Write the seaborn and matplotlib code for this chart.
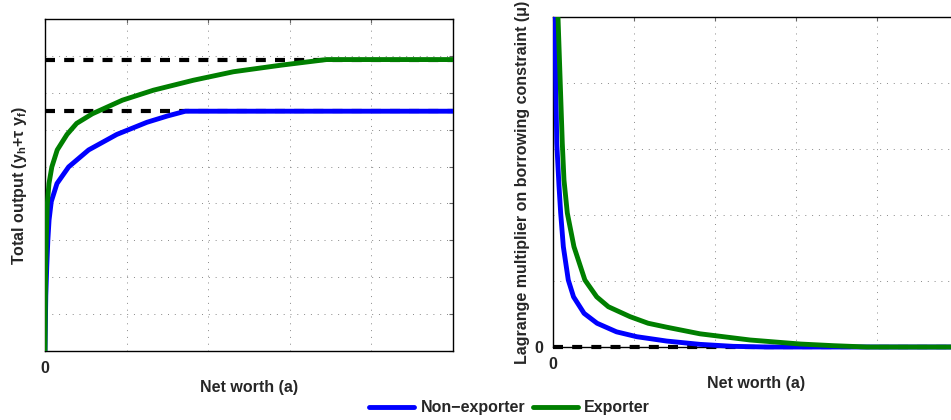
import numpy as np
import pandas as pd
import matplotlib
matplotlib.use('Agg')
import matplotlib.pyplot as plt
from matplotlib.patches import Rectangle
import seaborn as sns

#%% Data

# left panel: total output against net worth
a_nx_out = [0, 0.01, 0.022, 0.035, 0.05, 0.077, 0.147, 0.29, 0.535, 0.88, 1.25, 1.5, 1.72, 5.0]
y_nx_out = [0, 1.5, 2.3, 3.0, 3.55, 4.05, 4.54, 4.99, 5.45, 5.87, 6.2, 6.37, 6.5, 6.5]

a_ex_out = [0, 0.004, 0.01, 0.018, 0.029, 0.049, 0.084, 0.15, 0.27, 0.388, 0.58, 0.78, 0.95,
            1.33, 1.82, 2.31, 2.9, 3.45, 5.0]
y_ex_out = [0, 1.4, 2.4, 3.2, 4.0, 4.54, 4.99, 5.45, 5.87, 6.17, 6.43, 6.63, 6.80,
            7.07, 7.34, 7.57, 7.75, 7.9, 7.9]

cap_nx = 6.5
cap_ex = 7.9

# right panel: multiplier on borrowing constraint
a_nx_mu = [0.012, 0.021, 0.029, 0.043, 0.07, 0.091, 0.124, 0.185, 0.25, 0.38, 0.54, 0.78, 1.03,
           1.4, 1.81, 2.22, 2.63, 5.0]
y_nx_mu = [6.0, 5.0, 4.1, 3.09, 2.45, 2.03, 1.52, 1.015, 0.76, 0.51, 0.36, 0.23, 0.156,
           0.09, 0.04, 0.01, 0.0, 0.0]

a_ex_mu = [0.04, 0.058, 0.083, 0.111, 0.132, 0.173, 0.255, 0.39, 0.536, 0.68, 0.947, 1.17, 1.4,
           1.81, 2.43, 3.05, 3.46, 3.87, 5.0]
y_ex_mu = [5.7, 5.0, 4.1, 3.09, 2.53, 2.03, 1.52, 1.015, 0.76, 0.61, 0.46, 0.36, 0.30,
           0.20, 0.106, 0.045, 0.02, 0.0, 0.0]

labels = ['Non\u2212exporter', 'Exporter']
colors = ['#0000FF', '#007F00']

#%% Long-format frames for seaborn

out_df = pd.concat([
    pd.DataFrame({'a': a_nx_out, 'val': y_nx_out, 'type': labels[0]}),
    pd.DataFrame({'a': a_ex_out, 'val': y_ex_out, 'type': labels[1]}),
])
mu_df = pd.concat([
    pd.DataFrame({'a': a_nx_mu, 'val': y_nx_mu, 'type': labels[0]}),
    pd.DataFrame({'a': a_ex_mu, 'val': y_ex_mu, 'type': labels[1]}),
])

#%% Plot

sns.set_style('white')
plt.rcParams['font.family'] = ['Liberation Sans', 'DejaVu Sans']
plt.rcParams['font.weight'] = 'bold'
plt.rcParams['axes.labelweight'] = 'bold'
plt.rcParams['mathtext.default'] = 'regular'

fig = plt.figure(figsize=(9.51, 4.2), dpi=100)
ax1 = fig.add_axes([0.0473, 0.1643, 0.429, 0.7905])
ax2 = fig.add_axes([0.5818, 0.1738, 0.426, 0.7857])

pal = dict(zip(labels, colors))
fs = 11.5

def ax_settings(ax, ymax, ylabel):
    ax.set_xlim(0, 5)
    ax.set_ylim(0, ymax)
    ax.set_xticks(range(6))
    ax.set_xticklabels(['0'] + [''] * 5)
    ax.set_yticks(range(ymax + 1))
    ax.grid(True, color='#888888', lw=0.7, linestyle=(0, (1, 6)))
    ax.tick_params(direction='in', length=3, color='#666666', top=True, right=True,
                   labelsize=fs, pad=7)
    for s in ax.spines.values():
        s.set_edgecolor('black')
        s.set_linewidth(1.0)
    ax.set_xlabel('Net worth (a)', fontsize=fs, labelpad=3)
    ax.set_ylabel(ylabel, fontsize=fs)

# left
ax1.axhline(cap_nx, color='black', lw=3, dashes=(2.4, 2.2), zorder=1)
ax1.axhline(cap_ex, color='black', lw=3, dashes=(2.4, 2.2), zorder=1)
sns.lineplot(data=out_df, x='a', y='val', hue='type', palette=pal, lw=3.5,
             estimator=None, sort=False, ax=ax1, zorder=3)
handles, hl = ax1.get_legend_handles_labels()
ax1.get_legend().remove()
ax_settings(ax1, 9, 'Total output (y$_h$+\u03c4 y$_f$)')
ax1.set_yticklabels([''] * 10)
ax1.yaxis.set_label_coords(-0.039, 0.5)

# right
ax2.axhline(0, color='black', lw=3, dashes=(2.4, 2.2), zorder=1, clip_on=False)
sns.lineplot(data=mu_df, x='a', y='val', hue='type', palette=pal, lw=3.5,
             estimator=None, sort=False, ax=ax2, legend=False, zorder=3)
ax_settings(ax2, 5, 'Lagrange multiplier on borrowing constraint (\u03bc)')
ax2.set_yticklabels(['0'] + [''] * 5)
ax2.yaxis.set_label_coords(-0.058, 0.5)

# let the curves show their full width along the zero line, clip only at the top
clip_box = Rectangle((0, -0.02), 1, 1.02, transform=ax2.transAxes, visible=False)
ax2.add_patch(clip_box)
for ln in ax2.lines[1:]:
    ln.set_clip_path(clip_box)

leg = fig.legend(handles, hl, loc='center', bbox_to_anchor=(0.536, 0.029), ncol=2,
                 frameon=False, fontsize=fs, handlelength=2.8, columnspacing=0.5,
                 handletextpad=0.4)
for line in leg.get_lines():
    line.set_linewidth(3.5)

fig.savefig('out.png', dpi=100)
